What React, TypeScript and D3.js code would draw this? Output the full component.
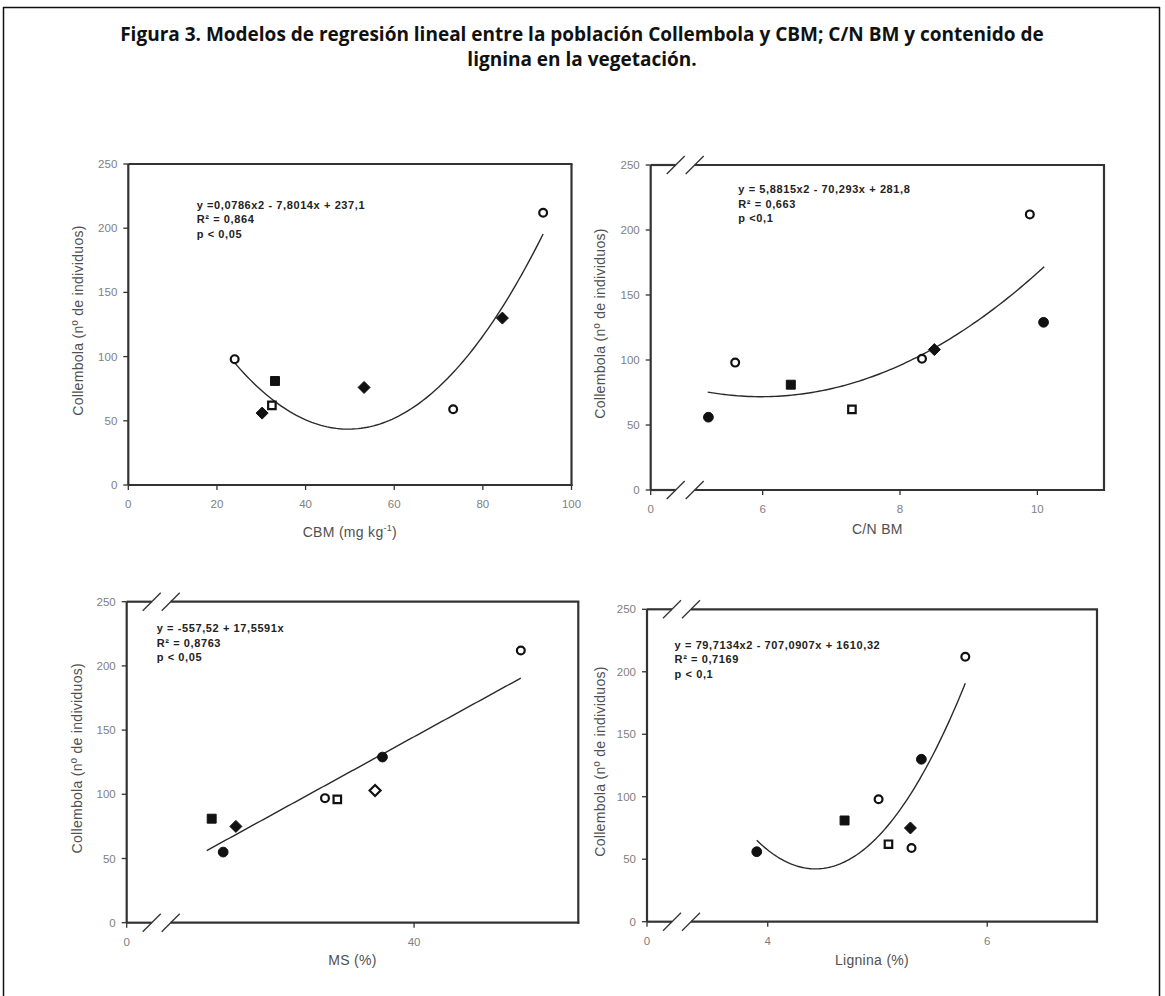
import React from "react";
import * as d3 from "d3";

const width = 1165;
const height = 996;

// Figure title
const titleLines = [
  "Figura 3. Modelos de regresión lineal entre la población Collembola y CBM; C/N BM y contenido de",
  "lignina en la vegetación.",
];

// y axis (shared)
const yTicks = [0, 50, 100, 150, 200, 250];
const yTitle = "Collembola (nº de individuos)";

// Panel 1 - CBM
const cbmX = [24, 33.1, 32.4, 30.2, 53.2, 73.3, 84.4, 93.6];
const cbmY = [98, 81, 62, 56, 76, 59, 130, 212];
const cbmSym = ["oc", "fs", "os", "fd", "fd", "oc", "fd", "oc"];
const cbmTicks = [0, 20, 40, 60, 80, 100];
const cbmFit = [0.0786, -7.8014, 237.1];
const cbmFitRange = [24, 93.6];
const cbmEq = ["y =0,0786x2 - 7,8014x + 237,1", "R² = 0,864", "p < 0,05"];

// Panel 2 - C/N BM
const cnX = [5.21, 5.6, 6.41, 7.3, 8.32, 8.5, 9.89, 10.09];
const cnY = [56, 98, 81, 62, 101, 108, 212, 129];
const cnSym = ["fc", "oc", "fs", "os", "oc", "fd", "oc", "fc"];
const cnTicks = [6, 8, 10];
const cnFit = [5.8815, -70.293, 281.8];
const cnFitRange = [5.2, 10.1];
const cnEq = ["y = 5,8815x2 - 70,293x + 281,8", "R² = 0,663", "p <0,1"];

// Panel 3 - MS
const msX = [35.07, 35.35, 35.66, 37.83, 38.13, 39.05, 39.23, 42.6];
const msY = [81, 55, 75, 97, 96, 103, 129, 212];
const msSym = ["fs", "fc", "fd", "oc", "os", "od", "fc", "oc"];
const msTicks = [40];
const msFit = [0, 17.5591, -557.52];
const msFitRange = [34.95, 42.6];
const msEq = ["y =  -557,52 + 17,5591x", "R² = 0,8763", "p < 0,05"];

// Panel 4 - Lignina
const ligX = [3.9, 4.7, 5.01, 5.1, 5.3, 5.31, 5.4, 5.8];
const ligY = [56, 81, 98, 62, 75, 59, 130, 212];
const ligSym = ["fc", "fs", "oc", "os", "fd", "oc", "fc", "oc"];
const ligTicks = [4, 6];
const ligFit = [79.7134, -707.0907, 1610.32];
const ligFitRange = [3.9, 5.8];
const ligEq = ["y = 79,7134x2 - 707,0907x + 1610,32", "R² = 0,7169", "p < 0,1"];

const panels = [
  {
    xs: cbmX, ys: cbmY, sym: cbmSym, ticks: cbmTicks, fit: cbmFit, fitRange: cbmFitRange, eq: cbmEq,
    domain: [0, 100], frame: { l: 128.3, r: 571.5, t: 164, b: 485 }, broken: false, topBreak: false,
    eqPos: [196.7, 205], yTitleX: 78, xTitle: "CBM", xTitleY: 532,
  },
  {
    xs: cnX, ys: cnY, sym: cnSym, ticks: cnTicks, fit: cnFit, fitRange: cnFitRange, eq: cnEq,
    domain: [4.37, 10.97], frame: { l: 650.7, r: 1104, t: 165, b: 490 }, broken: true, topBreak: true,
    eqPos: [738.3, 189.3], yTitleX: 600, xTitle: "C/N BM", xTitleY: 529,
  },
  {
    xs: msX, ys: msY, sym: msSym, ticks: msTicks, fit: msFit, fitRange: msFitRange, eq: msEq,
    domain: [33, 44], frame: { l: 126.7, r: 578.3, t: 601.7, b: 922.7 }, broken: true, topBreak: true,
    eqPos: [156.7, 628.3], yTitleX: 77, xTitle: "MS (%)", xTitleY: 960,
  },
  {
    xs: ligX, ys: ligY, sym: ligSym, ticks: ligTicks, fit: ligFit, fitRange: ligFitRange, eq: ligEq,
    domain: [2.9, 7], frame: { l: 647, r: 1097, t: 609.3, b: 921.7 }, broken: true, topBreak: true,
    eqPos: [674.6, 645], yTitleX: 600, xTitle: "Lignina (%)", xTitleY: 960,
  },
];

const axisColor = "#333";
const tickColor = "#808080";
const labelColor = "#505050";
const font = "'Liberation Sans', Arial, sans-serif";

function Marker({ x, y, kind }) {
  const filled = kind[0] === "f";
  const shape = kind[1];
  let d;
  if (shape === "d") {
    // rotated square diamond
    const r = filled ? 6 : 5.5;
    d = `M0,${-r}L${r},0L0,${r}L${-r},0Z`;
  } else {
    const type = shape === "s" ? d3.symbolSquare : d3.symbolCircle;
    const size = shape === "s" ? (filled ? 80 : 56) : filled ? 75 : 48;
    d = d3.symbol().type(type).size(size)();
  }
  return (
    <path
      d={d}
      transform={`translate(${x},${y})`}
      fill={filled ? "#111" : "#fff"}
      stroke="#111"
      strokeWidth={filled ? 1 : 2.2}
    />
  );
}

function BreakMarks({ x1, x2, y }) {
  return (
    <g stroke={axisColor} strokeWidth={1.3}>
      <line x1={x1 - 9} y1={y + 9} x2={x1 + 9} y2={y - 9} />
      <line x1={x2 - 9} y1={y + 9} x2={x2 + 9} y2={y - 9} />
    </g>
  );
}

function Panel({ p }) {
  const { l, r, t, b } = p.frame;
  const x = d3.scaleLinear().domain(p.domain).range([l, r]);
  const y = d3.scaleLinear().domain([0, 250]).range([b, t]);
  const g1 = l + 25;
  const g2 = l + 44;
  const curveXs = d3.range(0, 101).map((i) => p.fitRange[0] + ((p.fitRange[1] - p.fitRange[0]) * i) / 100);
  const line = d3
    .line()
    .x((d) => x(d))
    .y((d) => y(p.fit[0] * d * d + p.fit[1] * d + p.fit[2]));
  const midY = (t + b) / 2 - 4;
  const xTitleX = (l + r) / 2;
  const xLabelY = b + 19;
  return (
    <g>
      {/* frame */}
      <g stroke={axisColor} strokeWidth={2.2} fill="none">
        <line x1={l} y1={t} x2={l} y2={b} />
        <line x1={r} y1={t} x2={r} y2={b + 1} />
        {p.broken ? (
          <>
            <line x1={l} y1={b} x2={g1} y2={b} />
            <line x1={g2} y1={b} x2={r + 1} y2={b} />
          </>
        ) : (
          <line x1={l} y1={b} x2={r + 1} y2={b} />
        )}
        {p.topBreak ? (
          <>
            <line x1={l} y1={t} x2={g1} y2={t} />
            <line x1={g2} y1={t} x2={r + 1} y2={t} />
          </>
        ) : (
          <line x1={l} y1={t} x2={r + 1} y2={t} />
        )}
      </g>
      {p.broken && <BreakMarks x1={g1} x2={g2} y={b} />}
      {p.topBreak && <BreakMarks x1={g1} x2={g2} y={t} />}

      {/* y ticks */}
      {yTicks.map((v) => (
        <g key={"y" + v}>
          <line x1={l - 5} x2={l} y1={y(v)} y2={y(v)} stroke={axisColor} strokeWidth={1.3} />
          <text x={l - 11} y={y(v)} dy="0.35em" textAnchor="end" fontSize={11.5} fontFamily={font} fill={tickColor}>
            {v}
          </text>
        </g>
      ))}

      {/* x ticks */}
      {(p.broken ? [null, ...p.ticks] : p.ticks).map((v, i) => {
        const px = v === null ? l : x(v);
        return (
          <g key={"x" + i}>
            <line x1={px} x2={px} y1={b} y2={b + 5} stroke={axisColor} strokeWidth={1.3} />
            <text x={px} y={xLabelY} dy="0.35em" textAnchor="middle" fontSize={11.5} fontFamily={font} fill={tickColor}>
              {v === null ? 0 : v}
            </text>
          </g>
        );
      })}

      {/* titles */}
      <text
        transform={`translate(${p.yTitleX},${midY}) rotate(-90)`}
        textAnchor="middle"
        dy="0.35em"
        fontSize={14}
        letterSpacing={0.3}
        fontFamily={font}
        fill={labelColor}
      >
        {yTitle}
      </text>
      <text
        x={xTitleX}
        y={p.xTitleY}
        dy="0.35em"
        textAnchor="middle"
        fontSize={14}
        letterSpacing={0.3}
        fontFamily={font}
        fill={labelColor}
      >
        {p.xTitle === "CBM" ? (
          <>
            CBM (mg kg
            <tspan fontSize={9} dy="-6">-1</tspan>
            <tspan dy="6">)</tspan>
          </>
        ) : (
          p.xTitle
        )}
      </text>

      {/* fit */}
      <path d={line(curveXs)} fill="none" stroke="#2a2a2a" strokeWidth={1.4} />

      {/* points */}
      {p.xs.map((v, i) => (
        <Marker key={i} x={x(v)} y={y(p.ys[i])} kind={p.sym[i]} />
      ))}

      {/* equation */}
      {p.eq.map((s, i) => (
        <text
          key={i}
          x={p.eqPos[0]}
          y={p.eqPos[1] + i * 14.5}
          dy="0.35em"
          fontSize={11}
          letterSpacing={0.6}
          fontWeight="bold"
          fontFamily={font}
          fill="#222"
        >
          {s}
        </text>
      ))}
    </g>
  );
}

export default function App() {
  return (
    <svg width={width} height={height} style={{ position: "absolute", left: 0, top: 0, background: "#fff" }}>
      <rect x={0} y={0} width={width} height={height} fill="#fff" />
      <g stroke="#111" strokeWidth={1.5}>
        <line x1={3.5} y1={7} x2={3.5} y2={height} />
        <line x1={3} y1={7.5} x2={1160} y2={7.5} />
        <line x1={1159.5} y1={7} x2={1159.5} y2={height} />
      </g>
      {titleLines.map((s, i) => (
        <text
          key={i}
          x={582}
          y={41 + i * 25}
          textAnchor="middle"
          fontSize={19}
          fontWeight="bold"
          fontFamily="'Open Sans', Lato, sans-serif"
          fill="#111"
        >
          {s}
        </text>
      ))}
      {panels.map((p, i) => (
        <Panel key={i} p={p} />
      ))}
    </svg>
  );
}
